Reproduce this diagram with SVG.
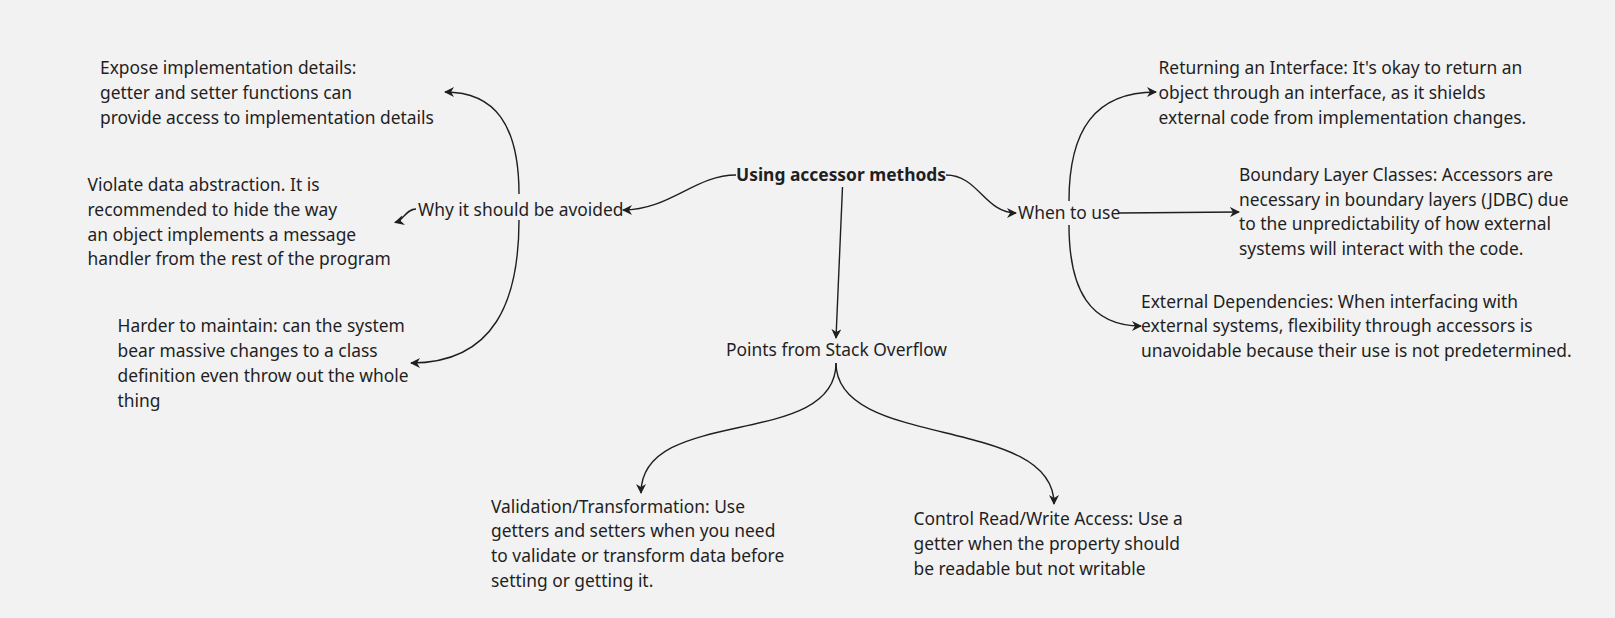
<svg xmlns="http://www.w3.org/2000/svg" width="1615" height="618" viewBox="0 0 1615 618">
<defs>
<style>
.t{font-family:"Noto Sans","Open Sans","Liberation Sans",sans-serif;font-size:17.4px;fill:#1f1f1f}
.b{font-weight:bold}
.c{fill:none;stroke:#1f1f1f;stroke-width:1.4;marker-end:url(#ah)}
</style>
<marker id="ah" viewBox="0 0 10 10" refX="9" refY="5" markerWidth="10" markerHeight="10" markerUnits="userSpaceOnUse" orient="auto">
<path d="M0,0 L10,5 L0,10 L3,5 z" fill="#1f1f1f"/>
</marker>
</defs>
<rect width="1615" height="618" fill="#f2f2f2"/>
<g id="connectors">
<path class="c" d="M736,175 C695,175 670,210 623,210"/>
<path class="c" d="M519,194 C519,125 495,92 445,92"/>
<path class="c" d="M519,220 C519,300 495,363 411,363"/>
<path class="c" d="M416,209 C406,209 404,220 395,222.5"/>
<path class="c" d="M842.5,187 L836,338"/>
<path class="c" d="M946,175 C978,175 985,213 1016,213"/>
<path class="c" d="M1069,201 C1069,130 1095,92 1156,92"/>
<path class="c" d="M1119,213 L1239,212"/>
<path class="c" d="M1069,225 C1069,290 1090,326 1141,326"/>
<path class="c" d="M836,363 C836,450 641,405 641,493"/>
<path class="c" d="M836,363 C836,450 1054,415 1054,504"/>
</g>
<g id="root"><text class="t b" x="736" y="181">Using accessor methods</text></g>
<g id="why"><text class="t" x="418" y="216">Why it should be avoided</text></g>
<g id="expose"><text class="t" x="100"><tspan x="100" y="73.5">Expose implementation details:</tspan><tspan x="100" y="98.5">getter and setter functions can</tspan><tspan x="100" y="123.5">provide access to implementation details</tspan></text></g>
<g id="violate"><text class="t" x="87.5"><tspan x="87.5" y="191">Violate data abstraction. It is</tspan><tspan x="87.5" y="215.5">recommended to hide the way</tspan><tspan x="87.5" y="240.5">an object implements a message</tspan><tspan x="87.5" y="265">handler from the rest of the program</tspan></text></g>
<g id="harder"><text class="t" x="117.5"><tspan x="117.5" y="332">Harder to maintain: can the system</tspan><tspan x="117.5" y="356.5">bear massive changes to a class</tspan><tspan x="117.5" y="381.5">definition even throw out the whole</tspan><tspan x="117.5" y="406.5">thing</tspan></text></g>
<g id="when"><text class="t" x="1018" y="218.5">When to use</text></g>
<g id="returning"><text class="t"><tspan x="1158.5" y="73.5">Returning an Interface: It's okay to return an</tspan><tspan x="1158.5" y="98.5">object through an interface, as it shields</tspan><tspan x="1158.5" y="123.5">external code from implementation changes.</tspan></text></g>
<g id="boundary"><text class="t"><tspan x="1239" y="180.5">Boundary Layer Classes: Accessors are</tspan><tspan x="1239" y="205.5">necessary in boundary layers (JDBC) due</tspan><tspan x="1239" y="230">to the unpredictability of how external</tspan><tspan x="1239" y="254.5">systems will interact with the code.</tspan></text></g>
<g id="external"><text class="t"><tspan x="1141" y="307.5">External Dependencies: When interfacing with</tspan><tspan x="1141" y="332">external systems, flexibility through accessors is</tspan><tspan x="1141" y="356.5">unavoidable because their use is not predetermined.</tspan></text></g>
<g id="points"><text class="t" x="726" y="355.5">Points from Stack Overflow</text></g>
<g id="validation"><text class="t"><tspan x="491" y="512.5">Validation/Transformation: Use</tspan><tspan x="491" y="537">getters and setters when you need</tspan><tspan x="491" y="561.5">to validate or transform data before</tspan><tspan x="491" y="587">setting or getting it.</tspan></text></g>
<g id="control"><text class="t"><tspan x="913.5" y="524.5">Control Read/Write Access: Use a</tspan><tspan x="913.5" y="549.5">getter when the property should</tspan><tspan x="913.5" y="574.5">be readable but not writable</tspan></text></g>
</svg>
